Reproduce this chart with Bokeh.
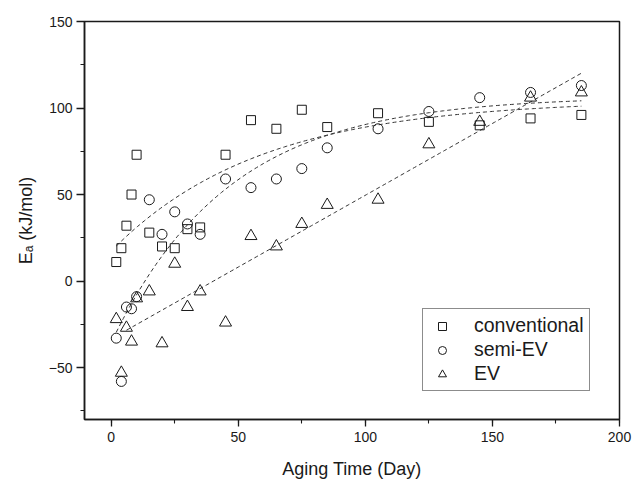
import numpy as np
from bokeh.plotting import figure
from bokeh.models import Range1d, SingleIntervalTicker, Legend, LegendItem
from bokeh.embed import file_html
from bokeh.resources import INLINE

# ---- data ----
aging_days = [2, 4, 6, 8, 10, 15, 20, 25, 30, 35, 45, 55, 65, 75, 85, 105, 125, 145, 165, 185]
conventional = [11, 19, 32, 50, 73, 28, 20, 19, 30, 31, 73, 93, 88, 99, 89, 97, 92, 90, 94, 96]
semi_ev = [-33, -58, -15, -16, -9, 47, 27, 40, 33, 27, 59, 54, 59, 65, 77, 88, 98, 106, 109, 113]
ev = [-22, -53, -27, -35, -10, -6, -36, 10, -15, -6, -24, 26, 20, 33, 44, 47, 79, 92, 106, 109]

series_names = ["conventional", "semi-EV", "EV"]
fit_start_day = [2, 2, 6]
fit_end_day = [185, 185, 185]

FONT = "Liberation Sans"
INK = "#1a1a1a"


def exp_fit(x, y):
    x = np.asarray(x, float)
    y = np.asarray(y, float)
    best = None
    for t in np.linspace(5, 300, 2951):
        M = np.column_stack([np.ones_like(x), np.exp(-x / t)])
        coef, *_ = np.linalg.lstsq(M, y, rcond=None)
        r = float(np.sum((M @ coef - y) ** 2))
        if best is None or r < best[0]:
            best = (r, coef, t)
    (a, b), t = best[1], best[2]
    return lambda xx: a + b * np.exp(-np.asarray(xx) / t)


def lin_fit(x, y):
    k, c = np.polyfit(np.asarray(x, float), np.asarray(y, float), 1)
    return lambda xx: c + k * np.asarray(xx)


p = figure(width=632, height=481,
           x_range=Range1d(-10.5, 200), y_range=Range1d(-80, 150),
           output_backend="svg", toolbar_location=None,
           min_border_left=84, min_border_right=13, min_border_top=21, min_border_bottom=60)

p.background_fill_color = "white"
p.border_fill_color = "white"
p.outline_line_color = INK
p.outline_line_width = 1.5
p.grid.visible = False

p.xaxis.ticker = SingleIntervalTicker(interval=50, num_minor_ticks=2)
p.yaxis.ticker = SingleIntervalTicker(interval=50, num_minor_ticks=2)

for ax in (p.xaxis[0], p.yaxis[0]):
    ax.axis_line_color = INK
    ax.axis_line_width = 1.5
    ax.major_tick_line_color = INK
    ax.minor_tick_line_color = INK
    ax.major_tick_line_width = 1.3
    ax.minor_tick_line_width = 1.1
    ax.major_tick_in = 0
    ax.minor_tick_in = 0
    ax.major_label_text_font = FONT
    ax.major_label_text_font_size = "14px"
    ax.major_label_text_color = INK
    ax.axis_label_text_font = FONT
    ax.axis_label_text_font_size = "18px"
    ax.axis_label_text_font_style = "normal"
    ax.axis_label_text_color = INK

p.xaxis.major_tick_out = 7
p.xaxis.minor_tick_out = 4
p.yaxis.major_tick_out = 8
p.yaxis.minor_tick_out = 4
p.xaxis.major_label_standoff = 5
p.yaxis.major_label_standoff = 4
p.xaxis.axis_label = "Aging Time (Day)"
p.yaxis.axis_label = "E\u2090 (kJ/mol)"
p.xaxis.axis_label_standoff = 14
p.yaxis.axis_label_standoff = 10

# fit lines
fits = [exp_fit(aging_days, conventional), exp_fit(aging_days, semi_ev), lin_fit(aging_days, ev)]
for f, s, e in zip(fits, fit_start_day, fit_end_day):
    xs = np.linspace(s, e, 200)
    p.line(xs, f(xs), line_color="#333333", line_width=1, line_dash="4 3")

r_conv = p.scatter(aging_days, conventional, marker="square", size=9,
                   fill_color=None, line_color=INK, line_width=1)
r_semi = p.scatter(aging_days, semi_ev, marker="circle", size=10,
                   fill_color=None, line_color=INK, line_width=1)
r_ev = p.scatter(aging_days, ev, marker="triangle", size=12,
                 fill_color=None, line_color=INK, line_width=1)

legend = Legend(items=[LegendItem(label=n, renderers=[r]) for n, r in
                       zip(series_names, [r_conv, r_semi, r_ev])],
                location=(338, 28))
legend.label_text_font = FONT
legend.label_text_font_size = "19.5px"
legend.label_text_color = INK
legend.glyph_width = 28
legend.glyph_height = 20
legend.label_height = 20
legend.spacing = 1
legend.padding = 5
legend.margin = 0
legend.label_standoff = 18
legend.border_line_color = INK
legend.border_line_width = 1
legend.background_fill_alpha = 1
p.add_layout(legend, "center")

open("out.html", "w").write(file_html(p, INLINE))
